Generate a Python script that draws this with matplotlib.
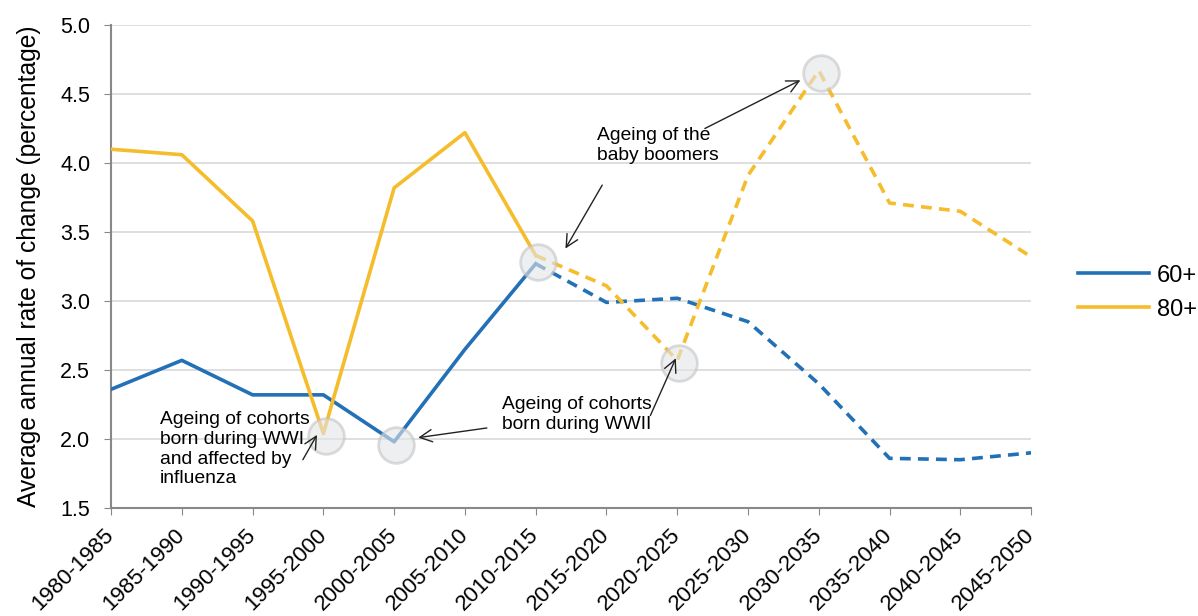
import matplotlib.pyplot as plt
import matplotlib.transforms as mtrans
import numpy as np

plt.rcParams['font.family'] = ['Liberation Sans', 'DejaVu Sans']

periods = ['1980-1985', '1985-1990', '1990-1995', '1995-2000', '2000-2005',
           '2005-2010', '2010-2015', '2015-2020', '2020-2025', '2025-2030',
           '2030-2035', '2035-2040', '2040-2045', '2045-2050']
pop60 = [2.36, 2.57, 2.32, 2.32, 1.98, 2.65, 3.27, 2.99, 3.02, 2.85, 2.40, 1.86, 1.85, 1.90]
pop80 = [4.10, 4.06, 3.58, 2.04, 3.82, 4.22, 3.33, 3.11, 2.57, 3.91, 4.67, 3.71, 3.65, 3.32]
last_estimate = 6  # index of 2010-2015, projections after

blue = '#2270B6'
yellow = '#F5BC2C'

fig = plt.figure(figsize=(11.98, 6.16), dpi=100)
ax = fig.add_axes([0.0927, 0.1753, 0.768, 0.7841])

x = np.arange(len(periods))
k = last_estimate
for vals, c, lab in [(pop60, blue, '60+'), (pop80, yellow, '80+')]:
    vals = np.array(vals)
    ax.plot(x[:k + 1], vals[:k + 1], color=c, lw=2.6, label=lab, zorder=3)
    ax.plot(x[k:], vals[k:], color=c, lw=2.6, dashes=(3, 2), zorder=3)

# highlight circles
hx = [3, 4, 6, 8, 10]
hy = [pop80[3], pop60[4], (pop60[6] + pop80[6]) / 2, pop80[8], pop80[10]]
ax.scatter(np.array(hx) + 0.03, np.array(hy) - 0.02, s=660, facecolor='#E4E5E9',
           edgecolor='#C4C4C4', lw=2, alpha=0.6, zorder=4, clip_on=False)

ax.set_xlim(0, len(periods) - 1)
ax.set_ylim(1.5, 5.0)
ax.set_yticks(np.arange(1.5, 5.01, 0.5))
ax.set_yticklabels(['%.1f' % v for v in np.arange(1.5, 5.01, 0.5)])
ax.set_xticks(x)
ax.set_xticklabels(periods, rotation=45, ha='right', va='center', rotation_mode='anchor')
shift = mtrans.ScaledTranslation(-4 / 100, 0, fig.dpi_scale_trans)
for t in ax.get_xticklabels():
    t.set_transform(t.get_transform() + shift)
ax.tick_params(labelsize=15.5, color='#888888', length=5)
ax.tick_params(axis='x', pad=12, labelsize=16)
ax.tick_params(axis='y', pad=10)
ax.grid(axis='y', color='#D9D9D9', lw=1.2)
ax.set_axisbelow(True)
for s in ['top', 'right']:
    ax.spines[s].set_visible(False)
for s in ['left', 'bottom']:
    ax.spines[s].set_color('#888888')
    ax.spines[s].set_linewidth(1.5)
ax.set_ylabel('Average annual rate of change (percentage)', fontsize=17.7, labelpad=14)

ap = dict(arrowstyle='->', lw=1, color='#222222', mutation_scale=22, shrinkA=0, shrinkB=0)
fs = 13.9
ax.text(0.69, 2.20, 'Ageing of cohorts\nborn during WWI\nand affected by\ninfluenza',
        fontsize=fs, va='top', ha='left', linespacing=1.2, zorder=5)
ax.annotate('', xy=(2.91, 2.03), xytext=(2.71, 1.85), arrowprops=ap, zorder=5)

ax.text(5.52, 2.31, 'Ageing of cohorts\nborn during WWII',
        fontsize=fs, va='top', ha='left', linespacing=1.2, zorder=5)
ax.annotate('', xy=(4.34, 2.01), xytext=(5.31, 2.08), arrowprops=ap, zorder=5)
ax.annotate('', xy=(7.98, 2.585), xytext=(7.62, 2.17), arrowprops=ap, zorder=5)

ax.text(6.87, 4.26, 'Ageing of the\nbaby boomers',
        fontsize=fs, va='top', ha='left', linespacing=1.2, zorder=5)
ax.annotate('', xy=(6.42, 3.38), xytext=(6.94, 3.84), arrowprops=ap, zorder=5)
ax.annotate('', xy=(9.74, 4.60), xytext=(8.39, 4.25), arrowprops=ap, zorder=5)

fig.legend(loc='center left', bbox_to_anchor=(0.8998, 0.525), frameon=False,
           borderpad=0, borderaxespad=0, fontsize=17, handlelength=3.0,
           handletextpad=0.35, labelspacing=0.5)

fig.savefig('out.png', dpi=100)
